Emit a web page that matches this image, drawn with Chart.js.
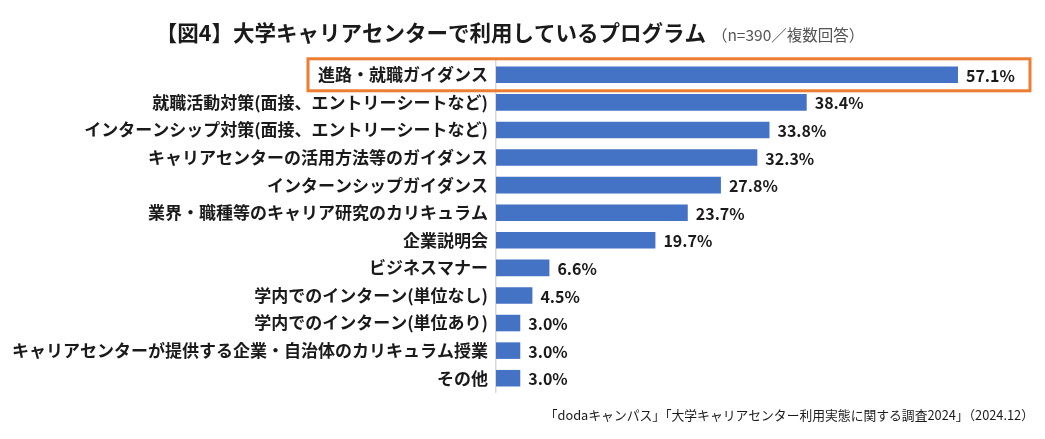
<!DOCTYPE html>
<html>
<head>
<meta charset="utf-8">
<script src="https://cdn.jsdelivr.net/npm/chart.js@4"></script>
<style>
  html, body { margin: 0; padding: 0; background: #fff; }
  #wrap { width: 1045px; height: 439px; }
</style>
</head>
<body>
<div id="wrap"><canvas id="myChart" width="1045" height="439"></canvas></div>
<script>
const categories = [
  "進路・就職ガイダンス",
  "就職活動対策(面接、エントリーシートなど)",
  "インターンシップ対策(面接、エントリーシートなど)",
  "キャリアセンターの活用方法等のガイダンス",
  "インターンシップガイダンス",
  "業界・職種等のキャリア研究のカリキュラム",
  "企業説明会",
  "ビジネスマナー",
  "学内でのインターン(単位なし)",
  "学内でのインターン(単位あり)",
  "キャリアセンターが提供する企業・自治体のカリキュラム授業",
  "その他"
];
const values = [57.1, 38.4, 33.8, 32.3, 27.8, 23.7, 19.7, 6.6, 4.5, 3.0, 3.0, 3.0];

const titleMain = "【図4】大学キャリアセンターで利用しているプログラム";
const titleSub = "（n=390／複数回答）";
const sourceText = "「dodaキャンパス」「大学キャリアセンター利用実態に関する調査2024」（2024.12）";

const FONT = "'Noto Sans CJK JP', 'Noto Sans', sans-serif";

// title, footer, value labels and the highlight box
const decorations = {
  id: "decorations",
  afterDatasetsDraw(chart) {
    const ctx = chart.ctx;
    const meta = chart.getDatasetMeta(0);
    ctx.save();

    // values at bar ends
    ctx.font = "bold 16px " + FONT;
    ctx.fillStyle = "#1a1a1a";
    ctx.textAlign = "left";
    ctx.textBaseline = "middle";
    meta.data.forEach((bar, i) => {
      ctx.fillText(values[i].toFixed(1) + "%", bar.x + 8, bar.y + 1);
    });

    // highlight box around first row
    const yScale = chart.scales.y;
    const first = meta.data[0];
    ctx.font = "bold 17px " + FONT;
    const lw = ctx.measureText(categories[0]).width;
    const left = yScale.right - 8 - lw - 10;
    ctx.strokeStyle = "#ED7D31";
    ctx.lineWidth = 3;
    ctx.strokeRect(left, first.y - 16, 1030 - left, 32);

    // title
    ctx.textBaseline = "middle";
    ctx.font = "bold 21.5px " + FONT;
    const w1 = ctx.measureText(titleMain).width;
    ctx.font = "15.5px " + FONT;
    const w2 = ctx.measureText(titleSub).width;
    const start = 510 - (w1 + w2 + 6) / 2;
    ctx.fillStyle = "#1a1a1a";
    ctx.font = "bold 21.5px " + FONT;
    ctx.fillText(titleMain, start, 33);
    ctx.fillStyle = "#555";
    ctx.font = "15.5px " + FONT;
    ctx.fillText(titleSub, start + w1 + 6, 35);

    // source
    ctx.fillStyle = "#1a1a1a";
    ctx.font = "12.8px " + FONT;
    ctx.textAlign = "right";
    ctx.fillText(sourceText, 1034, 415);

    ctx.restore();
  }
};

new Chart("myChart", {
  type: "bar",
  data: {
    labels: categories,
    datasets: [
      {
        data: values,
        backgroundColor: "#4472C4",
        categoryPercentage: 1.0,
        barPercentage: 0.6
      }
    ]
  },
  options: {
    indexAxis: "y",
    responsive: false,
    animation: false,
    layout: {
      padding: { top: 61, bottom: 47, left: 0, right: 15 }
    },
    scales: {
      x: {
        display: false,
        min: 0,
        max: 66
      },
      y: {
        afterFit(scale) {
          scale.width = 496;
        },
        grid: { display: false, drawTicks: false },
        border: { display: true, color: "#d9d9d9", width: 1.5 },
        ticks: {
          padding: 8,
          color: "#1a1a1a",
          font: { family: FONT, size: 17, weight: "bold" }
        }
      }
    },
    plugins: {
      legend: { display: false },
      tooltip: { enabled: false }
    }
  },
  plugins: [decorations]
});
</script>
</body>
</html>
